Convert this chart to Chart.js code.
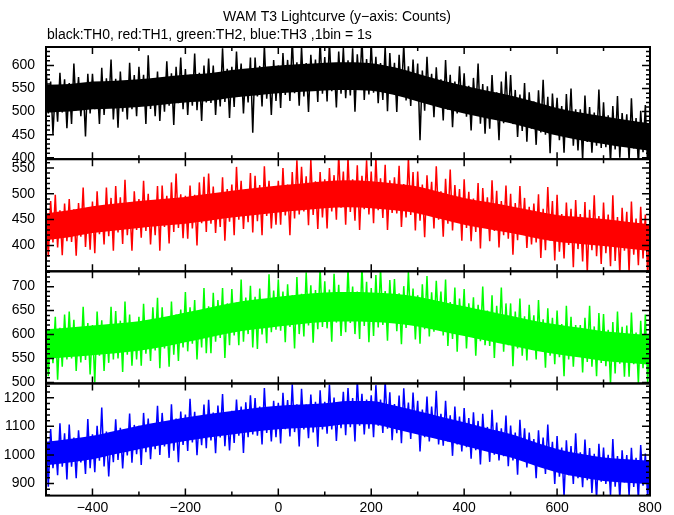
<!DOCTYPE html>
<html>
<head>
<meta charset="utf-8">
<title>WAM T3 Lightcurve</title>
<script src="https://cdn.jsdelivr.net/npm/chart.js@4.4.1/dist/chart.umd.min.js"></script>
<style>
  html, body { margin: 0; padding: 0; background: #fff; }
  canvas { display: block; }
</style>
</head>
<body>
<canvas id="lightcurve" width="674" height="515"></canvas>
<script>
//counts every 5 s (upper and lower excursion in turn), 1bin = 1s
const tStart = -500
const tStep = 5

const th0 = [
  598, 496, 565, 451, 552, 478, 584, 498, 570, 464,
  562, 473, 604, 503, 575, 490, 560, 446, 582, 496,
  582, 505, 562, 473, 595, 493, 572, 511, 613, 483,
  571, 465, 587, 500, 563, 483, 606, 505, 579, 490,
  597, 513, 580, 473, 622, 506, 570, 490, 587, 480,
  573, 500, 609, 513, 583, 471, 597, 518, 617, 505,
  592, 493, 580, 513, 626, 503, 584, 480, 600, 520,
  615, 519, 600, 493, 580, 511, 637, 521, 593, 486,
  597, 510, 630, 533, 604, 496, 592, 520, 617, 454,
  617, 533, 599, 511, 643, 528, 592, 493, 612, 523,
  600, 508, 627, 536, 612, 523, 657, 540, 607, 513,
  640, 533, 605, 499, 623, 546, 613, 521, 655, 539,
  618, 522, 653, 544, 603, 509, 630, 539, 638, 529,
  611, 535, 637, 500, 624, 547, 659, 525, 614, 537,
  647, 541, 619, 518, 605, 525, 642, 501, 627, 543,
  606, 499, 623, 536, 646, 524, 598, 512, 613, 529,
  604, 438, 589, 502, 619, 520, 582, 488, 596, 512,
  570, 481, 612, 504, 580, 466, 565, 496, 598, 508,
  583, 489, 556, 459, 573, 494, 604, 474, 560, 452,
  555, 463, 579, 485, 542, 438, 565, 475, 587, 481,
  579, 473, 547, 445, 537, 458, 562, 435, 542, 463,
  522, 428, 546, 455, 569, 450, 532, 410, 539, 460,
  530, 438, 512, 411, 538, 448, 550, 426, 505, 416,
  505, 396, 535, 434, 510, 411, 498, 426, 548, 421,
  520, 423, 492, 390, 512, 418, 534, 400, 497, 428,
  494, 395, 529, 420, 486, 385, 502, 412, 514, 378,
  482
]
const th1 = [
  461, 378, 486, 406, 498, 396, 468, 381, 481, 408,
  490, 407, 470, 380, 482, 417, 512, 397, 472, 392,
  485, 385, 505, 422, 475, 402, 512, 418, 492, 390,
  515, 425, 493, 403, 527, 420, 483, 390, 505, 430,
  490, 415, 525, 428, 500, 402, 485, 420, 515, 390,
  516, 436, 496, 404, 522, 426, 539, 434, 499, 414,
  496, 413, 516, 433, 498, 400, 522, 443, 533, 426,
  539, 442, 514, 424, 499, 436, 532, 409, 509, 446,
  518, 420, 552, 450, 525, 432, 508, 445, 540, 425,
  535, 447, 517, 420, 553, 457, 525, 433, 510, 440,
  525, 440, 550, 458, 518, 420, 542, 452, 565, 460,
  552, 466, 534, 439, 566, 459, 524, 432, 542, 454,
  528, 433, 550, 466, 536, 450, 576, 473, 543, 440,
  570, 465, 528, 448, 555, 430, 535, 470, 565, 460,
  543, 443, 570, 468, 530, 453, 556, 430, 526, 463,
  532, 462, 554, 436, 519, 454, 569, 459, 542, 429,
  543, 448, 518, 416, 536, 460, 523, 433, 553, 450,
  505, 417, 529, 442, 547, 429, 517, 447, 509, 409,
  528, 434, 504, 408, 491, 426, 521, 394, 511, 438,
  493, 408, 526, 428, 506, 396, 486, 420, 516, 413,
  500, 382, 482, 410, 515, 422, 492, 395, 475, 402,
  481, 406, 499, 376, 471, 391, 513, 409, 486, 371,
  498, 388, 461, 375, 483, 401, 471, 358, 488, 393,
  461, 369, 484, 347, 469, 391, 497, 379, 457, 364,
  483, 385, 460, 360, 497, 370, 455, 345, 473, 390,
  465, 348, 485, 382, 452, 362, 475, 375, 460, 342,
  450
]
const th2 = [
  622, 513, 610, 540, 637, 506, 614, 533, 642, 548,
  648, 550, 631, 524, 611, 542, 658, 547, 624, 517,
  620, 500, 648, 556, 630, 524, 618, 541, 658, 548,
  649, 550, 629, 522, 669, 558, 642, 535, 624, 548,
  637, 535, 664, 560, 629, 545, 657, 567, 677, 530,
  657, 571, 635, 533, 669, 558, 642, 545, 652, 573,
  689, 565, 657, 581, 672, 548, 647, 573, 697, 561,
  659, 561, 687, 585, 672, 593, 697, 551, 665, 578,
  695, 598, 667, 578, 715, 585, 677, 601, 702, 573,
  679, 570, 696, 600, 672, 582, 726, 605, 692, 610,
  715, 608, 690, 584, 705, 616, 682, 571, 720, 601,
  685, 596, 730, 619, 703, 583, 693, 611, 740, 616,
  711, 613, 694, 585, 727, 625, 704, 597, 687, 605,
  738, 624, 700, 601, 690, 591, 744, 618, 710, 584,
  697, 597, 724, 615, 739, 620, 691, 587, 714, 625,
  716, 607, 686, 580, 701, 614, 731, 622, 696, 590,
  682, 581, 705, 611, 722, 596, 688, 606, 712, 618,
  690, 598, 715, 576, 668, 591, 698, 564, 675, 604,
  695, 571, 665, 596, 678, 556, 662, 586, 700, 578,
  650, 576, 682, 551, 660, 584, 698, 564, 665, 578,
  665, 534, 648, 571, 675, 556, 638, 546, 662, 576,
  640, 548, 672, 566, 632, 531, 655, 556, 635, 538,
  650, 553, 622, 513, 660, 548, 637, 533, 620, 556,
  620, 521, 635, 543, 660, 533, 617, 513, 645, 541,
  643, 534, 610, 498, 626, 519, 648, 539, 616, 512,
  619, 512, 646, 538, 604, 498, 629, 530, 642, 498,
  612
]
const th3 = [
  1061, 889, 1091, 954, 1046, 929, 1111, 959, 1076, 914,
  1106, 959, 1061, 919, 1086, 974, 1051, 934, 1126, 954,
  1072, 940, 1102, 980, 1166, 960, 1082, 925, 1067, 975,
  1125, 983, 1095, 953, 1085, 998, 1145, 973, 1105, 1003,
  1102, 965, 1147, 1010, 1127, 985, 1107, 1020, 1172, 1000,
  1147, 1030, 1117, 990, 1177, 1015, 1127, 975, 1152, 1035,
  1141, 1014, 1196, 1044, 1151, 999, 1131, 1034, 1176, 1024,
  1193, 1051, 1148, 1006, 1173, 1061, 1213, 1031, 1148, 1016,
  1154, 1042, 1194, 1067, 1169, 1007, 1184, 1062, 1209, 1072,
  1199, 1067, 1169, 1037, 1234, 1077, 1164, 1047, 1189, 1062,
  1182, 1040, 1217, 1090, 1192, 1065, 1247, 1080, 1177, 1030,
  1231, 1089, 1176, 1059, 1211, 1079, 1186, 1029, 1226, 1089,
  1186, 1074, 1246, 1089, 1201, 1049, 1181, 1094, 1221, 1069,
  1234, 1097, 1199, 1047, 1264, 1102, 1214, 1072, 1194, 1092,
  1209, 1062, 1244, 1102, 1194, 1077, 1259, 1092, 1219, 1052,
  1178, 1076, 1208, 1041, 1233, 1086, 1183, 1056, 1218, 1081,
  1189, 1012, 1159, 1062, 1204, 1047, 1169, 1067, 1224, 1037,
  1144, 1032, 1189, 1047, 1139, 997, 1169, 1037, 1134, 1012,
  1164, 1027, 1129, 987, 1149, 1017, 1119, 967, 1144, 1022,
  1098, 976, 1158, 1001, 1113, 981, 1093, 996, 1138, 961,
  1103, 981, 1078, 931, 1123, 986, 1093, 956, 1078, 971,
  1056, 919, 1086, 959, 1061, 934, 1106, 949, 1046, 899,
  1066, 924, 1026, 854, 1051, 929, 1031, 899, 1076, 919,
  1009, 887, 1054, 912, 1024, 867, 1004, 846, 1039, 907,
  1026, 899, 1001, 859, 1056, 889, 996, 846, 1016, 904,
  1000, 858, 1025, 888, 990, 844, 1035, 893, 1005, 848,
  986
]

//the dense core of each band, read every 50 s
const coreStart = -500
const coreStep = 50
const th0CoreLo = [498,500,505,507,510,515,520,523,530,535,540,543,546,547,545,536,522,508,496,485,475,462,448,438,430,422,415]
const th0CoreHi = [558,560,565,567,570,575,580,583,590,595,600,603,606,607,605,596,582,568,556,545,535,522,508,498,490,482,475]
const th1CoreLo = [410,416,424,429,434,438,442,448,454,459,464,468,472,474,472,468,462,451,440,432,424,415,407,403,399,394,389]
const th1CoreHi = [462,468,476,481,486,490,494,500,506,511,516,520,524,526,524,520,514,503,492,484,476,467,459,455,451,446,441]
const th2CoreLo = [549,553,557,561,566,574,584,594,604,611,617,622,626,627,626,623,617,607,597,587,577,567,559,552,545,541,537]
const th2CoreHi = [611,615,619,623,628,636,646,656,666,673,679,684,688,689,688,685,679,669,659,649,639,629,621,614,607,603,599]
const th3CoreLo = [964,974,985,1003,1020,1035,1049,1061,1072,1082,1090,1094,1099,1107,1107,1091,1072,1052,1032,1011,991,964,939,922,909,903,898]
const th3CoreHi = [1046,1056,1067,1085,1102,1117,1131,1143,1154,1164,1172,1176,1181,1189,1189,1173,1154,1134,1114,1093,1073,1046,1021,1004,991,985,980]

//axis ranges and labelled ticks
const xRange = [-500, 800]
const xTicks = [-400, -200, 0, 200, 400, 600, 800]
const th0Range = [397, 640]
const th0Ticks = [400, 450, 500, 550, 600]
const th1Range = [350, 567]
const th1Ticks = [400, 450, 500, 550]
const th2Range = [498, 732]
const th2Ticks = [500, 550, 600, 650, 700]
const th3Range = [858, 1250]
const th3Ticks = [900, 1000, 1100, 1200]

const titleText = "WAM T3 Lightcurve (y\u2212axis: Counts)"
const subText = "black:TH0, red:TH1, green:TH2, blue:TH3 ,1bin = 1s"

const font = '"Liberation Sans", Helvetica, Arial, sans-serif'

//one panel per threshold, top to bottom
let panels = [
  {id: "y0", data: th0, lo: th0CoreLo, hi: th0CoreHi, color: "#000000", range: th0Range, ticks: th0Ticks, minor: 10},
  {id: "y1", data: th1, lo: th1CoreLo, hi: th1CoreHi, color: "#ff0000", range: th1Range, ticks: th1Ticks, minor: 10},
  {id: "y2", data: th2, lo: th2CoreLo, hi: th2CoreHi, color: "#00ff00", range: th2Range, ticks: th2Ticks, minor: 10},
  {id: "y3", data: th3, lo: th3CoreLo, hi: th3CoreHi, color: "#0000ff", range: th3Range, ticks: th3Ticks, minor: 20}
]

function minusLabel(v){
  return v < 0 ? "\u2212" + Math.abs(v) : String(v)
}

let scales = {
  x: {
    type: "linear",
    position: "bottom",
    min: xRange[0],
    max: xRange[1],
    grid: {display: false, drawTicks: false},
    border: {display: false},
    afterBuildTicks: s => { s.ticks = xTicks.map(v => ({value: v})) },
    afterFit: s => { s.height = 19 },
    ticks: {
      color: "#000",
      font: {family: font, size: 14},
      padding: 4,
      maxRotation: 0,
      autoSkip: false,
      callback: v => minusLabel(v)
    }
  }
}
panels.forEach((p, i) => {
  scales[p.id] = {
    type: "linear",
    position: "left",
    stack: "lc",
    stackWeight: 1,
    weight: panels.length - i,
    min: p.range[0],
    max: p.range[1],
    grid: {display: false, drawTicks: false},
    border: {display: false},
    afterBuildTicks: s => { s.ticks = p.ticks.map(v => ({value: v})) },
    afterFit: s => { s.width = 46 },
    ticks: {
      color: "#000",
      font: {family: font, size: 14},
      padding: 11,
      autoSkip: false,
      callback: v => String(v)
    }
  }
})

//keep every curve inside its own panel
const panelClip = {
  id: "panelClip",
  beforeDatasetDraw(chart, args){
    let s = chart.scales[args.meta.yAxisID]
    let a = chart.chartArea
    chart.ctx.save()
    chart.ctx.beginPath()
    chart.ctx.rect(a.left, s.top, a.right - a.left, s.bottom - s.top)
    chart.ctx.clip()
  },
  afterDatasetDraw(chart){
    chart.ctx.restore()
  }
}

//frames, inward ticks and the two text lines
const frames = {
  id: "frames",
  afterDraw(chart){
    let ctx = chart.ctx
    let a = chart.chartArea
    let xs = chart.scales.x
    ctx.save()
    ctx.strokeStyle = "#000"
    panels.forEach(p => {
      let ys = chart.scales[p.id]
      ctx.lineWidth = 1.5
      ctx.beginPath()
      for (let v = xRange[0]; v <= xRange[1]; v += 100) {
        let px = xs.getPixelForValue(v)
        let len = xTicks.includes(v) ? 7 : 4
        ctx.moveTo(px, ys.top); ctx.lineTo(px, ys.top + len)
        ctx.moveTo(px, ys.bottom); ctx.lineTo(px, ys.bottom - len)
      }
      for (let v = Math.ceil(p.range[0] / p.minor) * p.minor; v <= p.range[1]; v += p.minor) {
        let py = ys.getPixelForValue(v)
        let len = p.ticks.includes(v) ? 8 : 4
        ctx.moveTo(a.left, py); ctx.lineTo(a.left + len, py)
        ctx.moveTo(a.right, py); ctx.lineTo(a.right - len, py)
      }
      ctx.stroke()
      ctx.lineWidth = 2
      ctx.strokeRect(a.left, ys.top, a.right - a.left, ys.bottom - ys.top)
    })
    ctx.fillStyle = "#000"
    ctx.font = "14px " + font
    ctx.textBaseline = "middle"
    ctx.textAlign = "center"
    ctx.fillText(titleText, chart.width / 2, 17)
    ctx.textAlign = "left"
    ctx.fillText(subText, a.left + 1, 35)
    ctx.restore()
  }
}

//per panel: core lower edge, core upper edge filled down to it, then the curve itself
let datasets = []
panels.forEach(p => {
  let core = arr => arr.map((v, i) => ({x: coreStart + i * coreStep, y: v}))
  datasets.push({data: core(p.lo), yAxisID: p.id, borderWidth: 0, pointRadius: 0, cubicInterpolationMode: "monotone", fill: false})
  datasets.push({data: core(p.hi), yAxisID: p.id, borderWidth: 0, pointRadius: 0, cubicInterpolationMode: "monotone", fill: "-1", backgroundColor: p.color})
  datasets.push({
    data: p.data.map((v, i) => ({x: tStart + i * tStep, y: v})),
    yAxisID: p.id,
    borderColor: p.color,
    borderWidth: 1.5,
    pointRadius: 0,
    tension: 0,
    fill: false
  })
})

let lcchart = new Chart(document.getElementById("lightcurve"), {
  type: "line",
  data: {datasets: datasets},
  options: {
    responsive: false,
    animation: false,
    devicePixelRatio: 1,
    layout: {padding: {top: 47, right: 24, left: 0, bottom: 0}},
    plugins: {legend: {display: false}, tooltip: {enabled: false}, title: {display: false}},
    scales: scales
  },
  plugins: [panelClip, frames]
})
</script>
</body>
</html>
